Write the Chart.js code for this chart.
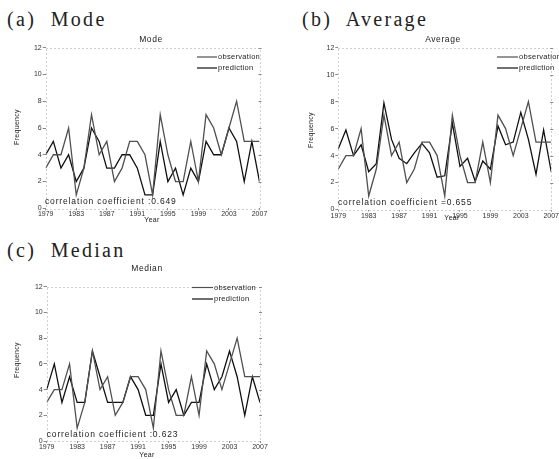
<!DOCTYPE html>
<html><head><meta charset="utf-8">
<script src="https://cdn.jsdelivr.net/npm/chart.js@4"></script>
<style>
body{margin:0;background:#fff;}
#wrap{position:relative;width:559px;height:459px;overflow:hidden;background:#fff;}
canvas{position:absolute;}
.hd{position:absolute;font-family:"Liberation Serif","DejaVu Serif",serif;font-size:20px;line-height:20px;letter-spacing:2.3px;color:#222;white-space:pre;}
</style></head><body>
<div id="wrap">
<div class="hd" style="left:7px;top:9px">(a)  Mode</div>
<div class="hd" style="left:302px;top:9px">(b)  Average</div>
<div class="hd" style="left:7px;top:240px">(c)  Median</div>
<canvas id="ca" width="280" height="200" style="left:0px;top:30px;width:280px;height:200px"></canvas>
<canvas id="cb" width="269" height="200" style="left:290px;top:30px;width:269px;height:200px"></canvas>
<canvas id="cc" width="280" height="197" style="left:0px;top:262px;width:280px;height:197px"></canvas>
</div>
<script>
const years = [1979,1980,1981,1982,1983,1984,1985,1986,1987,1988,1989,1990,1991,1992,1993,1994,1995,1996,1997,1998,1999,2000,2001,2002,2003,2004,2005,2006,2007];
const xTickLabels = [1979,1983,1987,1991,1995,1999,2003,2007];
const yTicks = [0,2,4,6,8,10,12];
const observation = [3,4,4,6,1,3,7,4,5,2,3,5,5,4,1,7,4,2,2,5,2,7,6,4,6,8,5,5,5];
const predMode    = [4,5,3,4,2,3,6,5,3,3,4,4,3,1,1,5,2,3,1,3,2,5,4,4,6,5,2,5,2];
const predAverage = [4.5,5.9,4.0,4.8,2.8,3.4,7.9,5.2,3.8,3.4,4.2,4.9,4.2,2.4,2.5,6.4,3.2,3.8,2.1,3.6,3.0,6.2,4.8,5.0,7.2,5.2,2.6,5.9,2.8];
const predMedian  = [4,6,3,5,3,3,7,5,3,3,3,5,4,2,2,6,3,4,2,3,3,6,4,5,7,5,2,5,3];
const seriesNames = ['observation','prediction'];
const subtitles = ['Mode','Average','Median'];
const corrTexts = ['correlation coefficient :0.649','correlation coefficient =0.655','correlation coefficient :0.623'];

const OBS_COLOR = '#505050', PRED_COLOR = '#101010';

const panelText = {
  id:'panelText',
  afterDraw(chart){
    const o = chart.options.plugins.panelText;
    const ctx = chart.ctx, a = chart.chartArea;
    ctx.save();
    ctx.strokeStyle='#a0a0a0'; ctx.lineWidth=1; ctx.setLineDash([1,3]);
    ctx.strokeRect(Math.round(a.left)+0.5, Math.round(a.top)+0.5, Math.round(a.right-a.left), Math.round(a.bottom-a.top));
    ctx.setLineDash([]);
    const ys = chart.scales.y;
    ctx.strokeStyle='#888';
    yTicks.forEach(v=>{ if(v===0) return; const py=Math.round(ys.getPixelForValue(v))+0.5; ctx.beginPath(); ctx.moveTo(a.right-1,py); ctx.lineTo(a.right+2,py); ctx.stroke(); });
    ctx.fillStyle='#222';
    ctx.textBaseline='middle';
    ctx.font='8.5px "Liberation Sans", Arial, sans-serif';
    try{ctx.letterSpacing='0.6px';}catch(e){}
    ctx.textAlign='center';
    ctx.fillText(o.subtitle, o.sub[0], o.sub[1]);
    ctx.font='7.5px "Liberation Sans", Arial, sans-serif';
    try{ctx.letterSpacing='0.3px';}catch(e){}
    ctx.textAlign='left';
    chart.data.datasets.forEach((d,i)=>{
      const y = o.leg[2+i];
      ctx.strokeStyle=d.borderColor; ctx.lineWidth=1.2;
      ctx.beginPath(); ctx.moveTo(o.leg[0], y); ctx.lineTo(o.leg[1], y); ctx.stroke();
      ctx.fillText(d.label, o.leg[1]+1, y);
    });
    ctx.font='8.5px "Liberation Sans", Arial, sans-serif';
    try{ctx.letterSpacing='0.85px';}catch(e){}
    ctx.fillText(o.corr, o.cor[0], o.cor[1]);
    ctx.font='7px "Liberation Sans", Arial, sans-serif';
    try{ctx.letterSpacing='0.3px';}catch(e){}
    ctx.textAlign='center';
    ctx.fillText('Year', o.xt[0], o.xt[1]);
    ctx.save(); ctx.translate(o.yt[0], o.yt[1]); ctx.rotate(-Math.PI/2);
    ctx.fillText('Frequency', 0, 0); ctx.restore();
    ctx.restore();
  }
};

function makeChart(id, pred, idx, g){
  const canvas = document.getElementById(id);
  const W = canvas.width, H = canvas.height;
  return new Chart(canvas, {
    type:'line',
    data:{ datasets:[
      {label:seriesNames[0], data:years.map((y,i)=>({x:y,y:observation[i]})), borderColor:OBS_COLOR, borderWidth:1.3, pointRadius:0, tension:0, fill:false},
      {label:seriesNames[1], data:years.map((y,i)=>({x:y,y:pred[i]})), borderColor:PRED_COLOR, borderWidth:1.3, pointRadius:0, tension:0, fill:false}
    ]},
    options:{
      responsive:false, animation:false, devicePixelRatio:1,
      layout:{padding:{left:0, top:g.top, right:W-g.right, bottom:0}},
      plugins:{legend:{display:false}, title:{display:false}, tooltip:{enabled:false},
        panelText:{subtitle:subtitles[idx], corr:corrTexts[idx], sub:g.sub, leg:g.leg, cor:g.cor, xt:g.xt, yt:g.yt}},
      scales:{
        x:{type:'linear', min:1979, max:2007,
          afterBuildTicks:s=>{ s.ticks = xTickLabels.map(v=>({value:v})); },
          afterFit:s=>{ s.height = H - g.bottom; },
          ticks:{callback:v=>String(v), font:{size:7, family:'"Liberation Sans", Arial, sans-serif'}, color:'#333', padding:0, maxRotation:0, autoSkip:false},
          grid:{display:true, drawOnChartArea:false, drawTicks:true, tickLength:2, color:'#888'},
          border:{display:false}},
        y:{min:0, max:12,
          afterBuildTicks:s=>{ s.ticks = yTicks.map(v=>({value:v})); },
          afterFit:s=>{ s.width = g.left; },
          ticks:{callback:v=>String(v), font:{size:7, family:'"Liberation Sans", Arial, sans-serif'}, color:'#333', padding:1},
          grid:{display:true, drawOnChartArea:false, drawTicks:true, tickLength:3, color:'#888'},
          border:{display:false}}
      }
    },
    plugins:[panelText]
  });
}

makeChart('ca', predMode, 0, {left:45.7, right:259.5, top:17.7, bottom:178.3,
  sub:[151,10], leg:[197,217,27,38], cor:[45,172], xt:[152,190], yt:[17,97]});
makeChart('cb', predAverage, 1, {left:48.3, right:261.7, top:17.7, bottom:179.5,
  sub:[153,10], leg:[207,228,27,38], cor:[48,173], xt:[162,188.5], yt:[21.5,100]});
makeChart('cc', predMedian, 2, {left:46.7, right:260, top:24.7, bottom:179,
  sub:[147,7], leg:[192,213,25.5,37], cor:[46.7,172.5], xt:[147,193], yt:[16.7,98]});
</script>
</body></html>
